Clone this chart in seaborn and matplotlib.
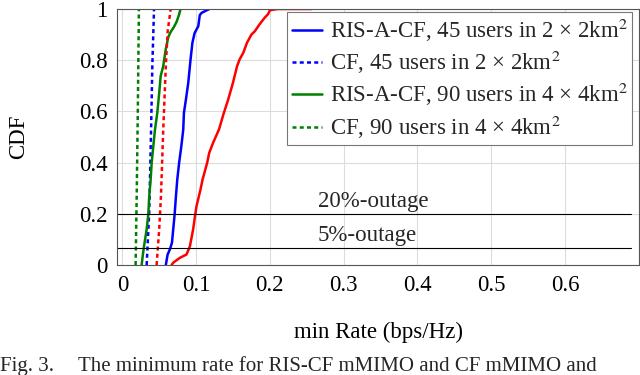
import numpy as np
import pandas as pd
import seaborn as sns
import matplotlib.pyplot as plt

# CDF levels and the min rate (bps/Hz)
red_cdf = [0.0, 0.009, 0.028, 0.041, 0.073, 0.139, 0.197, 0.23, 0.295, 0.334, 0.399, 0.438,
           0.477, 0.529, 0.594, 0.646, 0.712, 0.777, 0.803, 0.829, 0.868, 0.90, 0.913, 0.94,
           0.966, 0.98, 0.995, 1.0, 1.0]
red_rate = [0.0668, 0.069, 0.078, 0.087, 0.0916, 0.096, 0.0988, 0.1006, 0.106, 0.1088, 0.115, 0.1178,
            0.123, 0.131, 0.1376, 0.1435, 0.150, 0.1556, 0.159, 0.164, 0.169, 0.175, 0.1796, 0.186,
            0.193, 0.1976, 0.2, 0.21, 0.257]

blue_cdf = [0.0, 0.041, 0.061, 0.087, 0.139, 0.197, 0.269, 0.334, 0.399, 0.464, 0.529, 0.594,
            0.646, 0.712, 0.803, 0.868, 0.906, 0.933, 0.976, 0.985, 1.0]
blue_rate = [0.059, 0.0614, 0.0645, 0.0673, 0.069, 0.0709, 0.0727, 0.0745, 0.077, 0.080, 0.0826, 0.0835,
             0.0862, 0.0894, 0.0925, 0.095, 0.098, 0.103, 0.105, 0.1075, 0.118]

green_cdf = [0.0, 0.034, 0.073, 0.139, 0.197, 0.269, 0.334, 0.399, 0.464, 0.529, 0.594, 0.672,
             0.738, 0.777, 0.84, 0.89, 0.91, 0.93, 0.95, 0.976, 1.0]
green_rate = [0.0262, 0.0276, 0.0294, 0.033, 0.0352, 0.0365, 0.0384, 0.0398, 0.042, 0.0443, 0.0474, 0.050,
              0.052, 0.0555, 0.0587, 0.0623, 0.0655, 0.07, 0.0736, 0.0767, 0.079]

cf_red_cdf = [0.0, 0.14, 0.27, 0.53, 0.78, 0.91, 1.0]
cf_red_rate = [0.0465, 0.050, 0.0524, 0.0555, 0.059, 0.0614, 0.0655]
cf_blue_cdf = [0.0, 0.21, 0.53, 0.78, 1.0]
cf_blue_rate = [0.033, 0.0365, 0.039, 0.0407, 0.043]
cf_green_cdf = [0.0, 0.27, 0.6, 1.0]
cf_green_rate = [0.018, 0.0195, 0.021, 0.0225]

outage_levels = [0.2, 0.067]
outage_labels = ['20%-outage', '5%-outage']

x_ticks = [0, 0.1, 0.2, 0.3, 0.4, 0.5, 0.6]
y_ticks = [0, 0.2, 0.4, 0.6, 0.8, 1]

sns.set_theme(style="whitegrid")
plt.rcParams['font.family'] = ['Liberation Serif', 'DejaVu Serif']
plt.rcParams['mathtext.fontset'] = 'stix'
fs = 16.5

fig = plt.figure(figsize=(6.4, 3.75), dpi=100)
ax = fig.add_axes([117.3 / 640, 1 - 265 / 375, 521.4 / 640, 256 / 375])

series = [
    (red_rate, red_cdf, 'red', '-', '_nolegend_'),
    (blue_rate, blue_cdf, 'blue', '-', 'RIS-A-CF, 45 users in 2 \u00d7 2km$^2$'),
    (cf_blue_rate, cf_blue_cdf, 'blue', ':', 'CF, 45 users in 2 \u00d7 2km$^2$'),
    (green_rate, green_cdf, 'green', '-', 'RIS-A-CF, 90 users in 4 \u00d7 4km$^2$'),
    (cf_green_rate, cf_green_cdf, 'green', ':', 'CF, 90 users in 4 \u00d7 4km$^2$'),
    (cf_red_rate, cf_red_cdf, 'red', ':', '_nolegend_'),
]
for rate, cdf, col, ls, lab in series:
    df = pd.DataFrame({'rate': rate, 'cdf': cdf})
    sns.lineplot(data=df, x='rate', y='cdf', sort=False, estimator=None,
                 color=col, lw=1.8, label=lab, ax=ax)
    if ls == ':':
        ax.lines[-1].set_dashes([1.6, 1.3])

xmin, xmax = -0.0068, 0.7
for lvl, txt in zip(outage_levels, outage_labels):
    ax.plot([xmin, 0.689], [lvl, lvl], color='black', lw=0.8)
    ax.text(0.265, lvl + 0.05, txt, fontsize=fs, va='center', ha='left')

ax.set_xlim(xmin, xmax)
ax.set_ylim(0, 1)
ax.set_xticks(x_ticks)
ax.set_xticklabels(['0', '0.1', '0.2', '0.3', '0.4', '0.5', '0.6'])
ax.set_yticks(y_ticks)
ax.set_yticklabels(['0', '0.2', '0.4', '0.6', '0.8', '1'])
ax.tick_params(length=0, labelsize=fs, colors='black', pad=7)
ax.grid(True, color='#dcdcdc', lw=0.8)
for sp in ax.spines.values():
    sp.set_color('#555555')
    sp.set_linewidth(0.8)

ax.set_xlabel('min Rate (bps/Hz)', fontsize=fs, color='black')
ax.set_ylabel('CDF', fontsize=fs, color='black')
ax.xaxis.set_label_coords(0.5, -0.262)
ax.xaxis.label.set_va('center')
ax.yaxis.set_label_coords(-0.19, 0.5)
ax.yaxis.label.set_va('center')

leg = ax.legend(loc='upper right', bbox_to_anchor=(0.988, 0.988), fontsize=fs,
                frameon=True, fancybox=False, framealpha=1, edgecolor='#777777',
                handlelength=1.3, handletextpad=0.35, borderpad=0.2, labelspacing=0.22,
                borderaxespad=0)
leg.get_frame().set_linewidth(0.8)

cap_y = 1 - 371 / 375
fig.text(0.0, cap_y, 'Fig. 3.', fontsize=15, va='baseline', ha='left')
fig.text(78 / 640, cap_y, 'The minimum rate for RIS-CF mMIMO and CF mMIMO and',
         fontsize=15, va='baseline', ha='left')

fig.savefig('out.png', dpi=100)
